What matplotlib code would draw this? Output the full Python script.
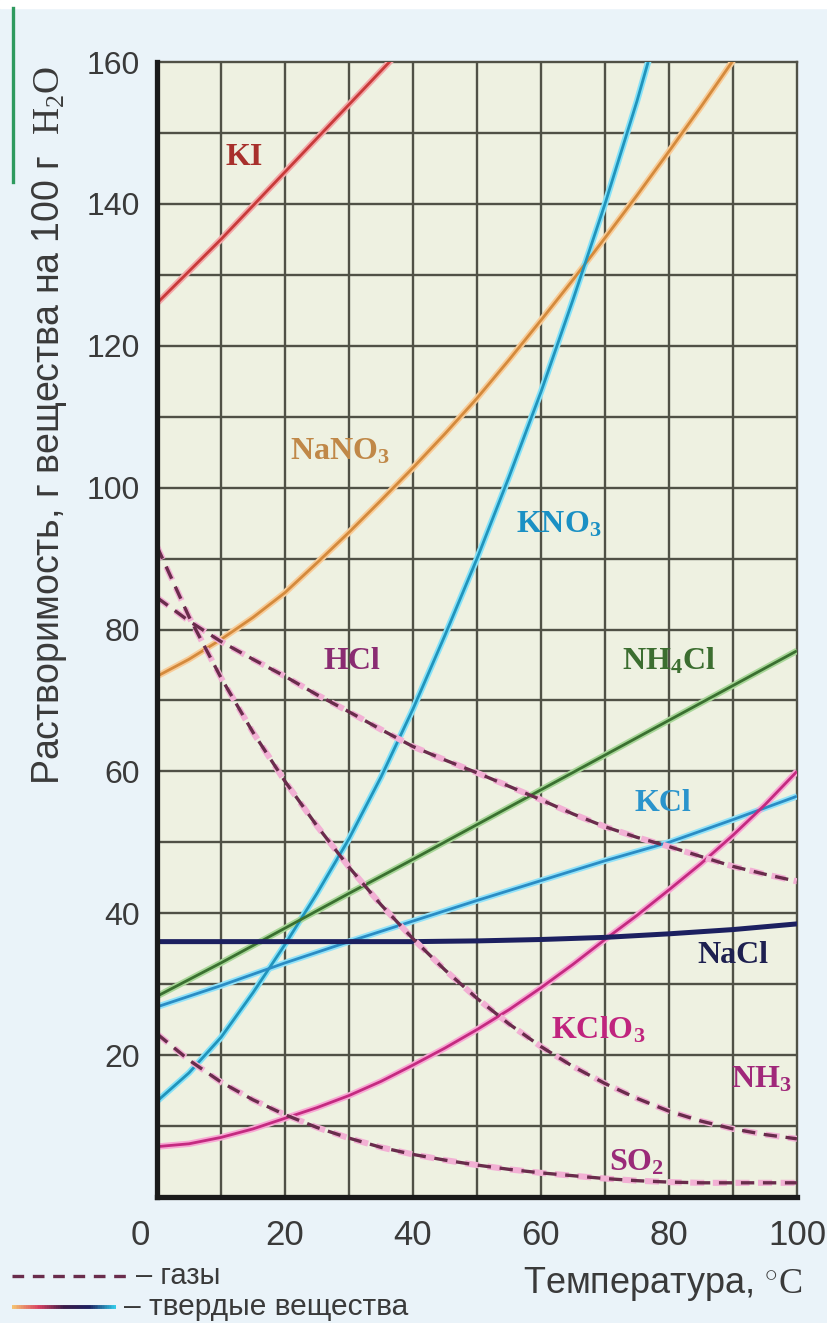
import numpy as np
import matplotlib
matplotlib.use("Agg")
import matplotlib.pyplot as plt
from matplotlib import font_manager
from matplotlib.collections import LineCollection
from matplotlib.colors import LinearSegmentedColormap
from matplotlib.transforms import ScaledTranslation
from matplotlib.patches import Rectangle

# ---------------- data ----------------
t10 = [0, 10, 20, 30, 40, 50, 60, 70, 80, 90, 100]
t5 = [0, 5, 10, 15, 20, 25, 30, 35, 40, 45, 50, 55, 60, 65, 70, 75, 80, 85, 90, 95, 100]

ki_t = [0, 10, 20, 30, 40]
ki_v = [126, 135, 144.5, 154, 163.5]

nano3_t = [0, 5, 10, 15, 20, 25, 30, 35, 40, 45, 50, 55, 60, 65, 70, 75, 80, 85, 90]
nano3_v = [73.4, 75.8, 78.6, 81.7, 85.2, 89.4, 93.7, 98.2, 102.8, 107.6, 112.6,
           118, 123.6, 129.3, 135.2, 141.2, 147.4, 153.7, 160.2]

kno3_t = [0, 5, 10, 15, 20, 25, 30, 35, 40, 45, 50, 55, 60, 65, 70, 75, 78]
kno3_v = [13.5, 17.5, 22.5, 28.8, 35.6, 42.8, 50.5, 59.2, 68.8, 79.2, 90, 101.5,
          113.5, 126.5, 140, 154.5, 164]

nh4cl_v = [28.3, 33, 37.9, 42.8, 47.6, 52.5, 57.4, 62.3, 67.2, 72.1, 77]
kcl_v = [26.8, 29.8, 33, 36, 38.9, 41.8, 44.6, 47.4, 50, 53.2, 56.5]
nacl_v = [36, 36, 36, 36, 36, 36.1, 36.3, 36.6, 37.1, 37.7, 38.5]
kclo3_v = [7.1, 7.5, 8.4, 9.6, 11.1, 12.6, 14.3, 16.3, 18.6, 21, 23.6,
           26.4, 29.5, 32.8, 36.3, 39.7, 43.3, 47, 51, 55.3, 60]

hcl_v = [84.5, 81.2, 78.3, 75.8, 73.4, 70.8, 68.4, 65.9, 63.5, 61.6, 59.8,
         57.9, 56, 54, 52.2, 50.7, 49.4, 48, 46.6, 45.5, 44.5]
nh3_v = [91.7, 81.8, 73.2, 65.5, 58.6, 52.3, 46.5, 41.2, 36.4, 32, 28,
         24.4, 21.2, 18.4, 16, 13.9, 12.1, 10.7, 9.6, 8.8, 8.2]
so2_v = [23, 19.3, 16.2, 13.7, 11.6, 9.8, 8.3, 7.0, 6.0, 5.2, 4.5,
         3.9, 3.4, 3.0, 2.6, 2.3, 2.1, 2.0, 2.0, 2.0, 2.0]

x_ticks = [0, 20, 40, 60, 80, 100]
y_ticks = [20, 40, 60, 80, 100, 120, 140, 160]

# ---------------- fonts ----------------
names = {f.name for f in font_manager.fontManager.ttflist}
SANS = "Liberation Sans Narrow" if "Liberation Sans Narrow" in names else "Liberation Sans"
SERIF = "Liberation Serif"
plt.rcParams["font.family"] = [SANS, "DejaVu Sans"]
plt.rcParams["mathtext.fontset"] = "custom"
plt.rcParams["mathtext.rm"] = SERIF
plt.rcParams["mathtext.bf"] = SERIF + ":bold"
plt.rcParams["mathtext.it"] = SERIF + ":italic"

FIG_BG = "#eaf3f9"
AX_BG = "#eef1e1"
GRID = "#505146"
TXT = "#3a3a3a"

fig = plt.figure(figsize=(8.27, 13.23), dpi=100, facecolor=FIG_BG)
ax = fig.add_axes([157 / 827, 1 - 1197 / 1323, 640 / 827, 1135 / 1323])
ax.set_facecolor(AX_BG)
ax.set_xlim(0, 100)
ax.set_ylim(0, 160)

# grid
for gx in range(10, 100, 10):
    ax.axvline(gx, color=GRID, lw=1.7, zorder=1)
for gy in range(10, 160, 10):
    ax.axhline(gy, color=GRID, lw=1.7, zorder=1)

for s in ["top", "right"]:
    ax.spines[s].set_color(GRID)
    ax.spines[s].set_linewidth(1.7)
for s in ["left", "bottom"]:
    ax.spines[s].set_color("#1a1a1a")
    ax.spines[s].set_linewidth(3.8)
    ax.spines[s].set_zorder(6)

ax.set_xticks(x_ticks)
ax.set_yticks(y_ticks)
ax.tick_params(length=0, colors=TXT)
ax.tick_params(axis="y", labelsize=23, pad=12)
ax.tick_params(axis="x", labelsize=25, pad=16)
for lab in ax.get_xticklabels():
    if lab.get_text() == "0":
        lab.set_transform(lab.get_transform() + ScaledTranslation(-0.17, 0, fig.dpi_scale_trans))


def solid(t, v, halo, core, lw=2.0, hw=4.6, z=3):
    ax.plot(t, v, color=halo, lw=hw, solid_capstyle="butt", solid_joinstyle="round", zorder=z)
    ax.plot(t, v, color=core, lw=lw, solid_capstyle="butt", solid_joinstyle="round", zorder=z + 0.1)


def dashed(t, v, z=4):
    ax.plot(t, v, color="#f2b0d4", lw=4.4, dashes=(2.3, 1.4), zorder=z)
    ax.plot(t, v, color="#6a2c4c", lw=2.4, dashes=(4.0, 2.6), zorder=z + 0.1)


solid(ki_t, ki_v, "#f3a8a8", "#c83a3a")
solid(nano3_t, nano3_v, "#f8cc98", "#d48a3c")
solid(kno3_t, kno3_v, "#86e2f8", "#2094bc")
solid(t10, nh4cl_v, "#a8d698", "#3a7030")
solid(t10, kcl_v, "#92e2f8", "#2a8cc4")
solid(t5, kclo3_v, "#f8a8d4", "#c42a80")
ax.plot(t10, nacl_v, color="#1c2060", lw=3.6, zorder=3.5)
dashed(t5, hcl_v)
dashed(t5, nh3_v)
dashed(t5, so2_v)

# curve labels
lab_kw = dict(family=SERIF, weight="bold", fontsize=23, ha="center", va="center", zorder=7)
ax.text(13.7, 146.5, "KI", color="#a8302c", **lab_kw)
ax.text(28.5, 105, r"NaNO$_\mathbf{3}$", color="#c08848", **lab_kw)
ax.text(62.7, 94.8, r"KNO$_\mathbf{3}$", color="#1a90c4", **lab_kw)
ax.text(30.5, 75.5, "HCl", color="#8a2c72", **lab_kw)
ax.text(80, 75.5, r"NH$_\mathbf{4}$Cl", color="#3c6e30", **lab_kw)
ax.text(79, 55.5, "KCl", color="#2a94cc", **lab_kw)
ax.text(90, 34, "NaCl", color="#1e2050", **lab_kw)
ax.text(69, 23.5, r"KClO$_\mathbf{3}$", color="#c0247e", **lab_kw)
ax.text(94.5, 16.5, r"NH$_\mathbf{3}$", color="#a0287a", **lab_kw)
ax.text(75, 4.8, r"SO$_\mathbf{2}$", color="#9a2a78", **lab_kw)

# axis labels
ax.set_ylabel(r"Растворимость, г вещества на 100 г  $\mathrm{H_2O}$",
              fontsize=27, color=TXT)
ax.yaxis.set_label_coords(-0.138, 0.68)
fig.text(803 / 827, 1 - 1284 / 1323, r"Температура, $\mathrm{{}^{\circ}C}$",
         fontsize=26, color=TXT, ha="right", va="center")

# legend (drawn manually)
yl1 = 1 - 1276 / 1323
yl2 = 1 - 1307 / 1323
fig.add_artist(plt.Line2D([12 / 827, 128 / 827], [yl1, yl1], color="#6a2c4c", lw=2.4,
                          dashes=(3.5, 2.6), transform=fig.transFigure))
fig.text(136 / 827, yl1, "– газы", fontsize=21, color=TXT, ha="left", va="center")
cmap = LinearSegmentedColormap.from_list(
    "solids", ["#f4c070", "#d84060", "#3a1a48", "#1c2060", "#30c8e8"])
xs = np.linspace(12 / 827, 116 / 827, 60)
segs = [[(xs[i], yl2), (xs[i + 1], yl2)] for i in range(len(xs) - 1)]
lc = LineCollection(segs, colors=[cmap(i / (len(segs) - 1)) for i in range(len(segs))],
                    linewidths=2.8, transform=fig.transFigure)
fig.add_artist(lc)
fig.text(124 / 827, yl2, "– твердые вещества", fontsize=21.5, color=TXT, ha="left", va="center")

# decorative strips from the screenshot
fig.add_artist(Rectangle((0, 1 - 8 / 1323), 1, 8 / 1323, transform=fig.transFigure,
                         color="white", zorder=0))
fig.add_artist(plt.Line2D([13 / 827, 13 / 827], [1 - 8 / 1323, 1 - 182 / 1323],
                          color="#2e9a5e", lw=2.4, transform=fig.transFigure))

fig.savefig("out.png", dpi=100, facecolor=FIG_BG)
